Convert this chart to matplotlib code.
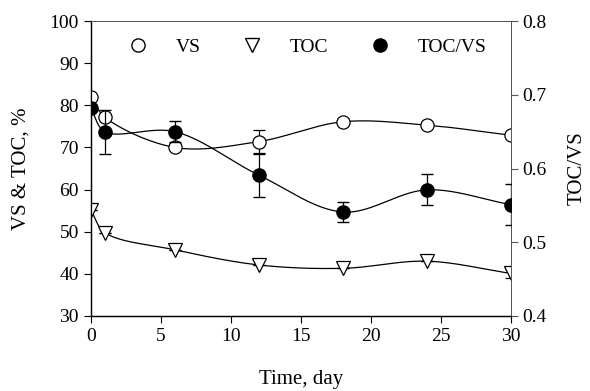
import numpy as np
import matplotlib
matplotlib.use("Agg")
import matplotlib.pyplot as plt
from matplotlib.lines import Line2D

plt.rcParams['font.family'] = ['Liberation Serif', 'DejaVu Serif']

# data
day = [0, 1, 6, 12, 18, 24, 30]
vs = [82.0, 77.2, 70.0, 71.4, 76.1, 75.3, 72.9]
vs_err = [0, 0, 0, 2.8, 0, 0, 0]
toc = [55.1, 49.8, 45.7, 42.1, 41.3, 43.0, 40.1]
toc_err = [0, 0, 0, 0, 0, 0, 1.0]
ratio = [0.682, 0.650, 0.650, 0.591, 0.541, 0.571, 0.551]
ratio_err = [0, 0.030, 0.014, 0.029, 0.014, 0.021, 0.028]


def smooth(x, y, sx, sy, n=40):
    # centripetal Catmull-Rom through the points, done in screen-like units
    p = np.column_stack([np.asarray(x, float) * sx, np.asarray(y, float) * sy])
    p = np.vstack([2 * p[0] - p[1], p, 2 * p[-1] - p[-2]])
    out = []
    for i in range(1, len(p) - 2):
        p0, p1, p2, p3 = p[i - 1], p[i], p[i + 1], p[i + 2]
        t0 = 0.0
        t1 = t0 + np.linalg.norm(p1 - p0) ** 0.5
        t2 = t1 + np.linalg.norm(p2 - p1) ** 0.5
        t3 = t2 + np.linalg.norm(p3 - p2) ** 0.5
        t = np.linspace(t1, t2, n)[:, None]
        a1 = (t1 - t) / (t1 - t0) * p0 + (t - t0) / (t1 - t0) * p1
        a2 = (t2 - t) / (t2 - t1) * p1 + (t - t1) / (t2 - t1) * p2
        a3 = (t3 - t) / (t3 - t2) * p2 + (t - t2) / (t3 - t2) * p3
        b1 = (t2 - t) / (t2 - t0) * a1 + (t - t0) / (t2 - t0) * a2
        b2 = (t3 - t) / (t3 - t1) * a2 + (t - t1) / (t3 - t1) * a3
        c = (t2 - t) / (t2 - t1) * b1 + (t - t1) / (t2 - t1) * b2
        out.append(c)
    c = np.vstack(out)
    return c[:, 0] / sx, c[:, 1] / sy


fig = plt.figure(figsize=(5.9, 3.91), dpi=100)
ax = fig.add_axes([0.154, 0.192, 0.712, 0.754])
ax2 = ax.twinx()

ms = 9.5
xs, ys = smooth(day, vs, 14, 4.21)
ax.plot(xs, ys, color='black', lw=0.9)
xs, ys = smooth(day, toc, 14, 4.21)
ax.plot(xs, ys, color='black', lw=0.9)
xs, ys = smooth(day, ratio, 14, 737.5)
ax2.plot(xs, ys, color='black', lw=0.9)

ax.errorbar(day, vs, yerr=vs_err, fmt='o', mfc='white', mec='black', mew=0.9,
            ms=ms, ecolor='black', elinewidth=0.9, capsize=4, zorder=4)
ax.errorbar(day, toc, yerr=toc_err, fmt='v', mfc='white', mec='black', mew=0.9,
            ms=ms, ecolor='black', elinewidth=0.9, capsize=4, zorder=4)
ax2.errorbar(day, ratio, yerr=ratio_err, fmt='o', mfc='black', mec='black',
             ms=ms, ecolor='black', elinewidth=0.9, capsize=4, zorder=4)

ax.set_xlim(0, 30)
ax.set_ylim(30, 100)
ax2.set_ylim(0.4, 0.8)
ax.set_xticks(range(0, 31, 5))
ax.set_yticks(range(30, 101, 10))
ax2.set_yticks([0.4, 0.5, 0.6, 0.7, 0.8])
ax2.set_yticklabels(['0.4', '0.5', '0.6', '0.7', '0.8'])

for a in (ax, ax2):
    a.tick_params(direction='out', length=5, width=0.8, labelsize=14)
    for s in a.spines.values():
        s.set_linewidth(0.9)
ax2.tick_params(axis='y', color='#555555')
for a in (ax, ax2):
    a.spines['top'].set_color('#555555')
    a.spines['top'].set_linewidth(0.7)
    a.spines['right'].set_color('#555555')
    a.spines['right'].set_linewidth(0.7)

ax.set_xlabel('Time, day', fontsize=15, labelpad=18)
ax.set_ylabel('VS & TOC, %', fontsize=15, labelpad=14)
ax2.set_ylabel('TOC/VS', fontsize=15, labelpad=15)

handles = [
    Line2D([], [], ls='none', marker='o', mfc='white', mec='black', ms=ms),
    Line2D([], [], ls='none', marker='v', mfc='white', mec='black', ms=ms),
    Line2D([], [], ls='none', marker='o', mfc='black', mec='black', ms=ms),
]
ax2.legend(handles, ['VS', 'TOC', 'TOC/VS'], ncol=3, frameon=False,
           loc='upper center', bbox_to_anchor=(0.51, 1.0), fontsize=14,
           handletextpad=1.2, columnspacing=1.9, handlelength=1.5)

fig.savefig('out.png', dpi=100)
